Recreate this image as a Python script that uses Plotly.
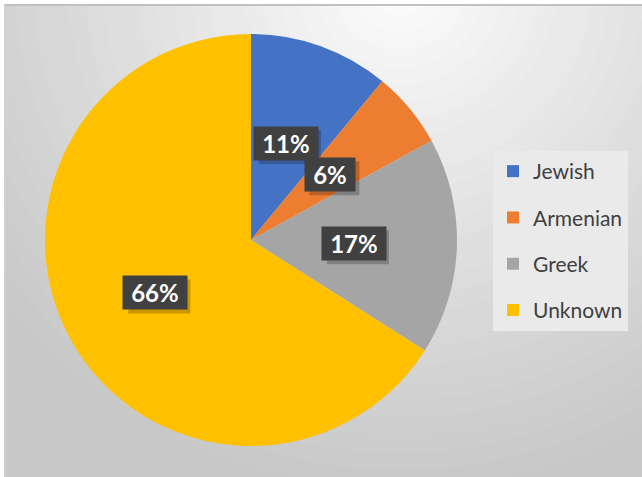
import math
import plotly.graph_objects as go

categories = ["Jewish", "Armenian", "Greek", "Unknown"]
values = [11, 6, 17, 66]
colors = ["#4472C4", "#ED7D31", "#A5A5A5", "#FFC000"]

W, H = 642, 477
cx_px, cy_px, r_px = 251, 240, 206
cx, cy = cx_px / W, 1 - cy_px / H
dom_x = [(cx_px - r_px) / W, (cx_px + r_px) / W]
dom_y = [1 - (cy_px + r_px) / H, 1 - (cy_px - r_px) / H]

fig = go.Figure()
fig.add_trace(go.Pie(
    labels=categories, values=values, sort=False, direction="clockwise",
    rotation=0, marker=dict(colors=colors, line=dict(width=0)),
    textinfo="none", hoverinfo="label+percent", showlegend=False,
    domain=dict(x=dom_x, y=dom_y),
))

# Legend entries (one per category, grouped for spacing)
for name, col in zip(categories, colors):
    fig.add_trace(go.Scatter(
        x=[None], y=[None], mode="markers", name=name, legendgroup=name,
        marker=dict(symbol="square", size=12, color=col),
    ))

# Radial gradient background built from concentric circles
shapes = []
gx, gy = 400, -20
steps = 40
rmax = 700
for i in range(steps, 0, -1):
    rr = rmax * i / steps
    t = min(rr / 520, 1.0)
    g = int(round(255 - (255 - 200) * t ** 0.9))
    c = "rgb(%d,%d,%d)" % (g, g, g)
    shapes.append(dict(
        type="circle", xref="paper", yref="paper", layer="below",
        x0=(gx - rr) / W, x1=(gx + rr) / W, y0=1 - (gy + rr) / H, y1=1 - (gy - rr) / H,
        fillcolor=c, line=dict(width=0),
    ))
# white outer strips and frame line
shapes.append(dict(type="rect", xref="paper", yref="paper", layer="below",
                   x0=0, x1=1, y0=1 - 4 / H, y1=1.05, fillcolor="white", line=dict(width=0)))
shapes.append(dict(type="rect", xref="paper", yref="paper", layer="below",
                   x0=-0.05, x1=4 / W, y0=-0.05, y1=1.05, fillcolor="white", line=dict(width=0)))
shapes.append(dict(type="line", xref="paper", yref="paper", layer="below",
                   x0=4 / W, x1=1, y0=1 - 5 / H, y1=1 - 5 / H, line=dict(color="#c0c0c0", width=2)))
shapes.append(dict(type="line", xref="paper", yref="paper", layer="below",
                   x0=5 / W, x1=5 / W, y0=0, y1=1 - 4 / H, line=dict(color="#d0d0d0", width=1.5)))

# Percentage label boxes positioned at the middle angle of each slice
total = sum(values)
cum = 0
annotations = []
for v in values:
    mid = (cum + v / 2) / total * 2 * math.pi
    cum += v
    f = 0.5 if v < 50 else 0.53
    ax = cx + r_px * f * math.sin(mid) / W
    ay = cy + r_px * f * math.cos(mid) / H
    pct = round(v / total * 100)
    half_w = 31 if pct >= 10 else 25
    # soft drop shadow behind the label box
    shapes.append(dict(type="rect", xref="paper", yref="paper", layer="above",
                       xsizemode="pixel", ysizemode="pixel", xanchor=ax, yanchor=ay,
                       x0=-half_w + 4, x1=half_w + 4, y0=-17 - 4, y1=17 - 4,
                       fillcolor="rgba(0,0,0,0.22)", line=dict(width=0)))
    annotations.append(dict(
        x=ax, y=ay, xref="paper", yref="paper", showarrow=False,
        text="&nbsp;<b>%d%%</b>&nbsp;" % pct, borderpad=2,
        xanchor="center", yanchor="middle",
        font=dict(family="Lato, Liberation Sans, sans-serif", size=24, color="white"),
        bgcolor="#404040",
    ))

fig.update_layout(
    width=W, height=H, margin=dict(l=0, r=0, t=0, b=0),
    paper_bgcolor="white", plot_bgcolor="rgba(0,0,0,0)",
    xaxis=dict(visible=False), yaxis=dict(visible=False),
    showlegend=True,
    legend=dict(
        x=493 / W, y=1 - 151 / H, xanchor="left", yanchor="top",
        bgcolor="#eaeaea", borderwidth=0, tracegroupgap=16,
        font=dict(family="Lato, Liberation Sans, sans-serif", size=21, color="#404040"),
        itemclick=False, itemdoubleclick=False,
    ),
    annotations=annotations, shapes=shapes,
)

fig.write_html("out.html", config={"displayModeBar": False},
               post_script="document.body.style.margin='0';document.body.style.overflow='hidden';")
